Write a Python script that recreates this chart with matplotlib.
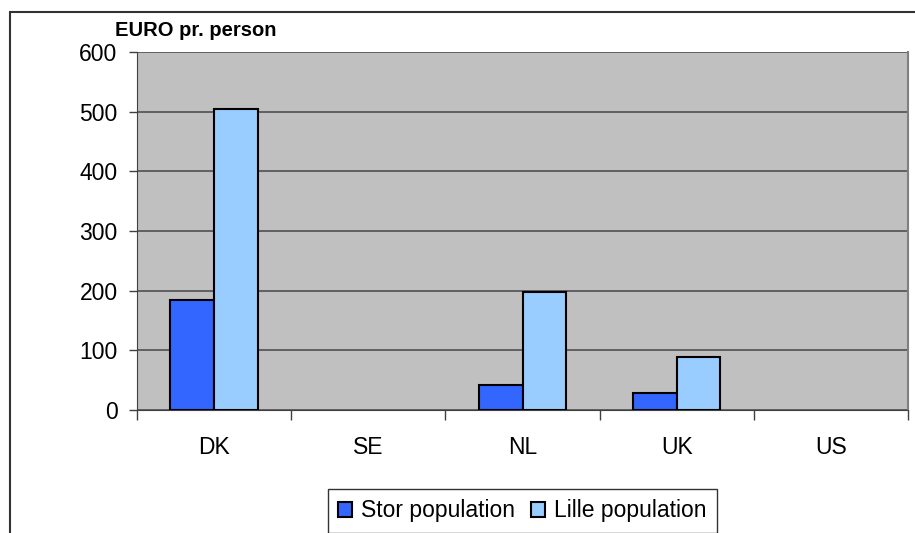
import numpy as np
import matplotlib.pyplot as plt
from matplotlib.patches import Rectangle

plt.rcParams['font.family'] = ['Liberation Sans', 'DejaVu Sans']

countries = ['DK', 'SE', 'NL', 'UK', 'US']
stor = [185, 0, 42, 29, 0]
lille = [504, 0, 198, 89, 0]

fig = plt.figure(figsize=(9.15, 5.33), dpi=100)
ax = fig.add_axes([137 / 915, 1 - 410 / 533, 771 / 915, 358 / 533])
ax.set_facecolor('#c0c0c0')

x = np.arange(len(countries))
w = 0.284
# no outline for empty bars (SE, US have no data)
ax.bar(x - w / 2, stor, w, color='#3366ff', edgecolor='black',
       linewidth=[1.5 if v else 0 for v in stor], label='Stor population', zorder=3)
ax.bar(x + w / 2, lille, w, color='#99ccff', edgecolor='black',
       linewidth=[1.5 if v else 0 for v in lille], label='Lille population', zorder=3)

ax.set_xlim(-0.5, len(countries) - 0.5)
ax.set_ylim(0, 600)
ax.set_yticks(range(0, 601, 100))
ax.yaxis.grid(True, color='#505050', linewidth=1.2, zorder=1)
ax.set_axisbelow(True)

ax.set_xticks(x)
ax.set_xticklabels(countries, fontsize=16.5)
ax.tick_params(axis='x', length=0, pad=19)
ax.set_xticks(np.arange(-0.5, len(countries), 1), minor=True)
ax.tick_params(axis='x', which='minor', length=7, width=1, color='#404040')
ax.tick_params(axis='y', labelsize=16.5, length=6, width=1, color='#404040', pad=8)

ax.spines['top'].set_visible(False)
ax.spines['left'].set_color('#404040')
ax.spines['bottom'].set_color('#404040')
ax.spines['right'].set_color('#808080')
ax.spines['right'].set_linewidth(1.5)

fig.text(115 / 915, 1 - 31 / 533, 'EURO pr. person', fontsize=14.5, fontweight='bold',
         ha='left', va='center')

leg = fig.legend(loc='upper center', bbox_to_anchor=(522 / 915, 1 - 489 / 533), ncol=2,
                 fontsize=16.5, frameon=True, fancybox=False, edgecolor='black',
                 handlelength=0.6, handleheight=0.6, handletextpad=0.4,
                 columnspacing=0.7, borderpad=0.45, borderaxespad=0)
leg.get_frame().set_linewidth(1)

fig.patches.append(Rectangle((10 / 915, -0.1), 1.0, (533 - 12) / 533 + 0.1,
                             transform=fig.transFigure, fill=False,
                             edgecolor='#333333', linewidth=1.5))

fig.savefig('out.png', dpi=100)
